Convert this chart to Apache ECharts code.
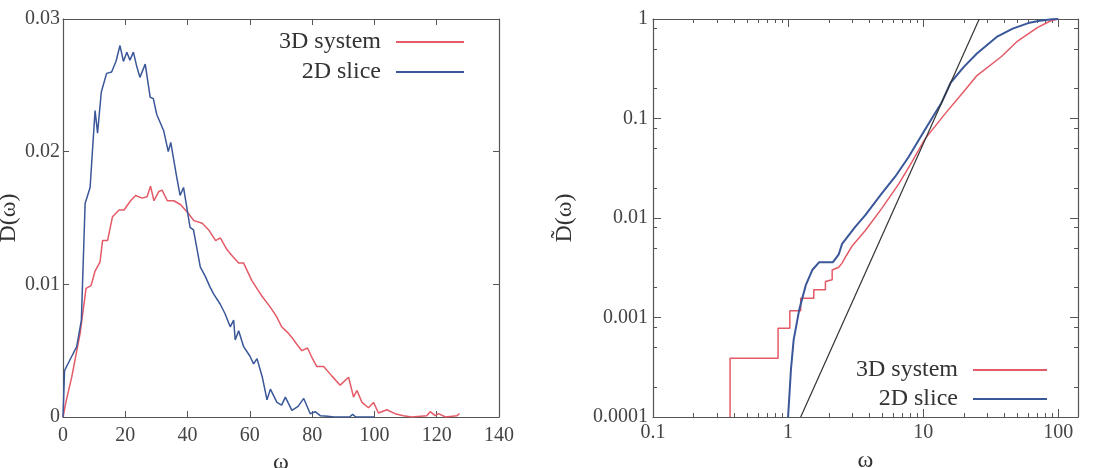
<!DOCTYPE html>
<html>
<head>
<meta charset="utf-8">
<title>D(ω)</title>
<script src="https://cdn.jsdelivr.net/npm/echarts@6/dist/echarts.min.js"></script>
<style>
  html, body { margin: 0; padding: 0; background: #fff; }
  #chart { width: 1104px; height: 468px; }
</style>
</head>
<body>
<div id="chart"></div>
<script>
// left panel: D(ω)
const omega3D = [0, 1, 2.8, 5.5, 7.4, 9, 10.3, 11.9, 12.7, 14.3, 15.9, 18, 19.6, 21.7, 23.3, 25.4, 27, 28.1, 29.2, 30.8, 31.8, 33.5, 35.6, 37.8, 40.4, 42, 44.7, 46.8, 49, 50.5, 52.7, 54.5, 56.4, 58, 60.6, 62.5, 63.9, 66.5, 68.5, 70.2, 72, 73.5, 75, 76.7, 78.5, 79.9, 81.5, 83.7, 86.3, 89, 91.7, 93.3, 94.4, 96, 98.1, 99.7, 101.3, 104, 106.6, 109.3, 112, 116.8, 117.9, 119.5, 120.6, 122.8, 126.5, 127.3];
const d3D = [0, 0.0012, 0.003, 0.0063, 0.0097, 0.0099, 0.011, 0.0117, 0.0133, 0.0133, 0.0151, 0.0156, 0.0156, 0.0163, 0.0167, 0.0165, 0.0166, 0.0174, 0.0163, 0.017, 0.0171, 0.0163, 0.0163, 0.016, 0.0153, 0.0148, 0.0146, 0.0141, 0.0133, 0.0135, 0.0126, 0.0121, 0.0116, 0.0116, 0.0103, 0.0096, 0.0091, 0.0083, 0.0076, 0.0068, 0.0064, 0.006, 0.0055, 0.005, 0.0052, 0.0045, 0.0038, 0.0038, 0.0031, 0.0024, 0.003, 0.0015, 0.002, 0.0011, 0.0007, 0.0011, 0.0003, 0.00055, 0.00025, 0.0001, 0, 0.0001, 0.0004, 0.0001, 0.00025, 0, 0.0001, 0.00025];
const omega2D = [0, 0.5, 2, 4.4, 5.9, 7.1, 8.7, 10.3, 11.1, 12.3, 14, 15.6, 17, 18.3, 19.4, 20.5, 21.5, 22.6, 23.6, 24.7, 26.4, 28, 29, 30.1, 32.3, 33.8, 34.6, 36.5, 37.6, 38.7, 40.8, 41.9, 44.1, 45.7, 47, 48.3, 50.5, 52, 53.7, 54.8, 55.3, 56.4, 58, 60, 61.2, 62.3, 64, 65.5, 66.6, 68.7, 70.2, 71.4, 73.5, 75.5, 77.3, 79.4, 81, 82.6, 85, 87, 92, 93, 94, 100];
const d2D = [0, 0.0035, 0.0042, 0.0053, 0.0073, 0.0161, 0.0173, 0.0231, 0.0214, 0.0245, 0.0259, 0.026, 0.0268, 0.028, 0.0268, 0.0275, 0.0269, 0.0275, 0.0265, 0.0256, 0.0266, 0.0241, 0.024, 0.0228, 0.0216, 0.02, 0.0207, 0.0181, 0.0167, 0.0173, 0.0143, 0.0141, 0.0113, 0.0106, 0.0099, 0.0093, 0.0085, 0.0078, 0.0068, 0.0073, 0.0058, 0.0065, 0.0053, 0.0046, 0.004, 0.0044, 0.003, 0.0013, 0.0021, 0.0011, 0.0009, 0.0015, 0.0005, 0.0008, 0.0014, 0.00025, 0.0004, 0.0001, 0.00005, 0, 0, 0.0002, 0, 0];

// right panel: cumulative D~(ω), log-log
const omegaCum3D = [0.372, 0.372, 0.843, 0.843, 1.03, 1.03, 1.24, 1.24, 1.55, 1.55, 1.89, 1.89, 2.12, 2.12, 2.37, 2.5, 2.7, 3.0, 3.73, 4.94, 6.6, 8.2, 10.3, 14.4, 20.2, 25, 38, 50, 70, 88, 100];
const cum3D = [0.0001, 0.00039, 0.00039, 0.00078, 0.00078, 0.00117, 0.00117, 0.00156, 0.00156, 0.0019, 0.0019, 0.0023, 0.0024, 0.003, 0.0032, 0.0035, 0.0042, 0.0053, 0.0075, 0.0125, 0.022, 0.036, 0.062, 0.11, 0.19, 0.27, 0.42, 0.6, 0.82, 0.96, 1];
const omegaCum2D = [1.0, 1.05, 1.1, 1.21, 1.35, 1.51, 1.7, 2.15, 2.37, 2.51, 3.15, 3.73, 4.94, 6.2, 7.8, 10.3, 13.6, 16, 20, 25, 35, 46, 60, 73, 90, 100];
const cum2D = [0.0001, 0.0003, 0.0006, 0.0012, 0.0021, 0.003, 0.0036, 0.0036, 0.0043, 0.0055, 0.0082, 0.0107, 0.0177, 0.026, 0.041, 0.077, 0.142, 0.23, 0.33, 0.45, 0.66, 0.8, 0.91, 0.96, 0.995, 1];
const omegaRef = [1.24, 26];
const cumRef = [0.0001, 1];

const logXTicks = [0.1, 1, 10, 100];
const logXMinor = [0.2, 0.3, 0.4, 0.5, 0.6, 0.7, 0.8, 0.9, 2, 3, 4, 5, 6, 7, 8, 9, 20, 30, 40, 50, 60, 70, 80, 90];
const logYTicks = [0.0001, 0.001, 0.01, 0.1, 1];
const logYMinor = [0.0002, 0.0005, 0.0008, 0.002, 0.005, 0.008, 0.02, 0.05, 0.08, 0.2, 0.5, 0.8];

const red = '#e45a66';
const blue = '#3a5799';
const font = 'Liberation Serif';

function pairs(xs, ys) {
  return xs.map((x, i) => [x, ys[i]]);
}

const lineAxis = { onZero: false, lineStyle: { color: '#555', width: 1.2 } };
const noSplit = { show: false };

function frameAxis(extra) {
  // axis used only for the box edge and its ticks
  return Object.assign({
    axisLine: lineAxis,
    axisLabel: { show: false },
    splitLine: noSplit
  }, extra);
}

let myChart = echarts.init(document.getElementById('chart'));
myChart.setOption({
  animation: false,
  textStyle: { fontFamily: font },
  grid: [
    { left: 63, top: 19, width: 436, height: 398, outerBoundsMode: 'none' },
    { left: 653, top: 19, width: 425, height: 398, outerBoundsMode: 'none' }
  ],
  legend: [
    {
      data: ['3D system', '2D slice'],
      orient: 'vertical',
      align: 'right',
      right: 635,
      top: 25,
      itemWidth: 68,
      itemHeight: 2,
      itemGap: 6,
      icon: 'rect',
      selectedMode: false,
      textStyle: { fontFamily: font, fontSize: 24, color: '#333', padding: [0, 10, 0, 0] }
    },
    {
      data: ['3D system', '2D slice'],
      orient: 'vertical',
      align: 'right',
      right: 52,
      top: 353,
      itemWidth: 74,
      itemHeight: 2,
      itemGap: 5,
      icon: 'rect',
      selectedMode: false,
      textStyle: { fontFamily: font, fontSize: 24, color: '#333', padding: [0, 10, 0, 0] }
    }
  ],
  xAxis: [
    {
      gridIndex: 0, type: 'value', position: 'bottom',
      min: 0, max: 140, interval: 20,
      name: 'ω', nameLocation: 'middle', nameGap: 32,
      nameTextStyle: { fontFamily: font, fontSize: 24, color: '#333' },
      axisLine: lineAxis,
      axisTick: { inside: true, length: 6, lineStyle: { color: '#555' } },
      axisLabel: { fontFamily: font, fontSize: 20, color: '#444', margin: 9 },
      splitLine: noSplit
    },
    frameAxis({
      gridIndex: 0, type: 'value', position: 'top',
      min: 0, max: 140, interval: 20,
      axisTick: { inside: true, length: 6, lineStyle: { color: '#555' } }
    }),
    {
      gridIndex: 1, type: 'log', position: 'bottom',
      min: 0.1, max: 140,
      name: 'ω', nameLocation: 'middle', nameGap: 32,
      nameTextStyle: { fontFamily: font, fontSize: 24, color: '#333' },
      axisLine: lineAxis,
      axisTick: { inside: true, length: 8, customValues: logXTicks, lineStyle: { color: '#555' } },
      axisLabel: {
        fontFamily: font, fontSize: 20, color: '#444', margin: 6,
        customValues: logXTicks,
        formatter: v => String(+v.toPrecision(3))
      },
      splitLine: noSplit
    },
    frameAxis({
      gridIndex: 1, type: 'log', position: 'top', min: 0.1, max: 140,
      axisTick: { inside: true, length: 8, customValues: logXTicks, lineStyle: { color: '#555' } }
    }),
    frameAxis({
      gridIndex: 1, type: 'log', position: 'bottom', min: 0.1, max: 140,
      axisLine: { show: false },
      axisTick: { inside: true, length: 4, customValues: logXMinor, lineStyle: { color: '#555' } }
    }),
    frameAxis({
      gridIndex: 1, type: 'log', position: 'top', min: 0.1, max: 140,
      axisLine: { show: false },
      axisTick: { inside: true, length: 4, customValues: logXMinor, lineStyle: { color: '#555' } }
    })
  ],
  yAxis: [
    {
      gridIndex: 0, type: 'value', position: 'left',
      min: 0, max: 0.03, interval: 0.01,
      name: 'D(ω)', nameLocation: 'middle', nameGap: 40, nameRotate: 90,
      nameTextStyle: { fontFamily: font, fontSize: 24, color: '#333' },
      axisLine: lineAxis,
      axisTick: { inside: true, length: 6, lineStyle: { color: '#555' } },
      axisLabel: { fontFamily: font, fontSize: 20, color: '#444', margin: 3 },
      splitLine: noSplit
    },
    frameAxis({
      gridIndex: 0, type: 'value', position: 'right',
      min: 0, max: 0.03, interval: 0.01,
      axisTick: { inside: true, length: 6, lineStyle: { color: '#555' } }
    }),
    {
      gridIndex: 1, type: 'log', position: 'left',
      min: 0.0001, max: 1,
      name: 'D\u0303(ω)', nameLocation: 'middle', nameGap: 76, nameRotate: 90,
      nameTextStyle: { fontFamily: font, fontSize: 24, color: '#333' },
      axisLine: lineAxis,
      axisTick: { inside: true, length: 8, customValues: logYTicks, lineStyle: { color: '#555' } },
      axisLabel: {
        fontFamily: font, fontSize: 20, color: '#444', margin: 5,
        customValues: logYTicks,
        formatter: v => String(+v.toPrecision(3))
      },
      splitLine: noSplit
    },
    frameAxis({
      gridIndex: 1, type: 'log', position: 'right', min: 0.0001, max: 1,
      axisTick: { inside: true, length: 8, customValues: logYTicks, lineStyle: { color: '#555' } }
    }),
    frameAxis({
      gridIndex: 1, type: 'log', position: 'left', min: 0.0001, max: 1,
      axisLine: { show: false },
      axisTick: { inside: true, length: 4, customValues: logYMinor, lineStyle: { color: '#555' } }
    }),
    frameAxis({
      gridIndex: 1, type: 'log', position: 'right', min: 0.0001, max: 1,
      axisLine: { show: false },
      axisTick: { inside: true, length: 4, customValues: logYMinor, lineStyle: { color: '#555' } }
    })
  ],
  series: [
    {
      name: '3D system', type: 'line', xAxisIndex: 0, yAxisIndex: 0,
      data: pairs(omega3D, d3D), symbol: 'none', color: red,
      lineStyle: { color: red, width: 1.5 }
    },
    {
      name: '2D slice', type: 'line', xAxisIndex: 0, yAxisIndex: 0,
      data: pairs(omega2D, d2D), symbol: 'none', color: blue,
      lineStyle: { color: blue, width: 1.5 }
    },
    {
      name: '3D system', type: 'line', xAxisIndex: 2, yAxisIndex: 2,
      data: pairs(omegaCum3D, cum3D), symbol: 'none', color: red, clip: true,
      lineStyle: { color: red, width: 1.5 }
    },
    {
      name: '2D slice', type: 'line', xAxisIndex: 2, yAxisIndex: 2,
      data: pairs(omegaCum2D, cum2D), symbol: 'none', color: blue, clip: true,
      lineStyle: { color: blue, width: 2 }
    },
    {
      name: 'slope 3', type: 'line', xAxisIndex: 2, yAxisIndex: 2,
      data: pairs(omegaRef, cumRef), symbol: 'none', color: '#333', clip: true,
      lineStyle: { color: '#333', width: 1.2 }
    }
  ]
});
</script>
</body>
</html>
